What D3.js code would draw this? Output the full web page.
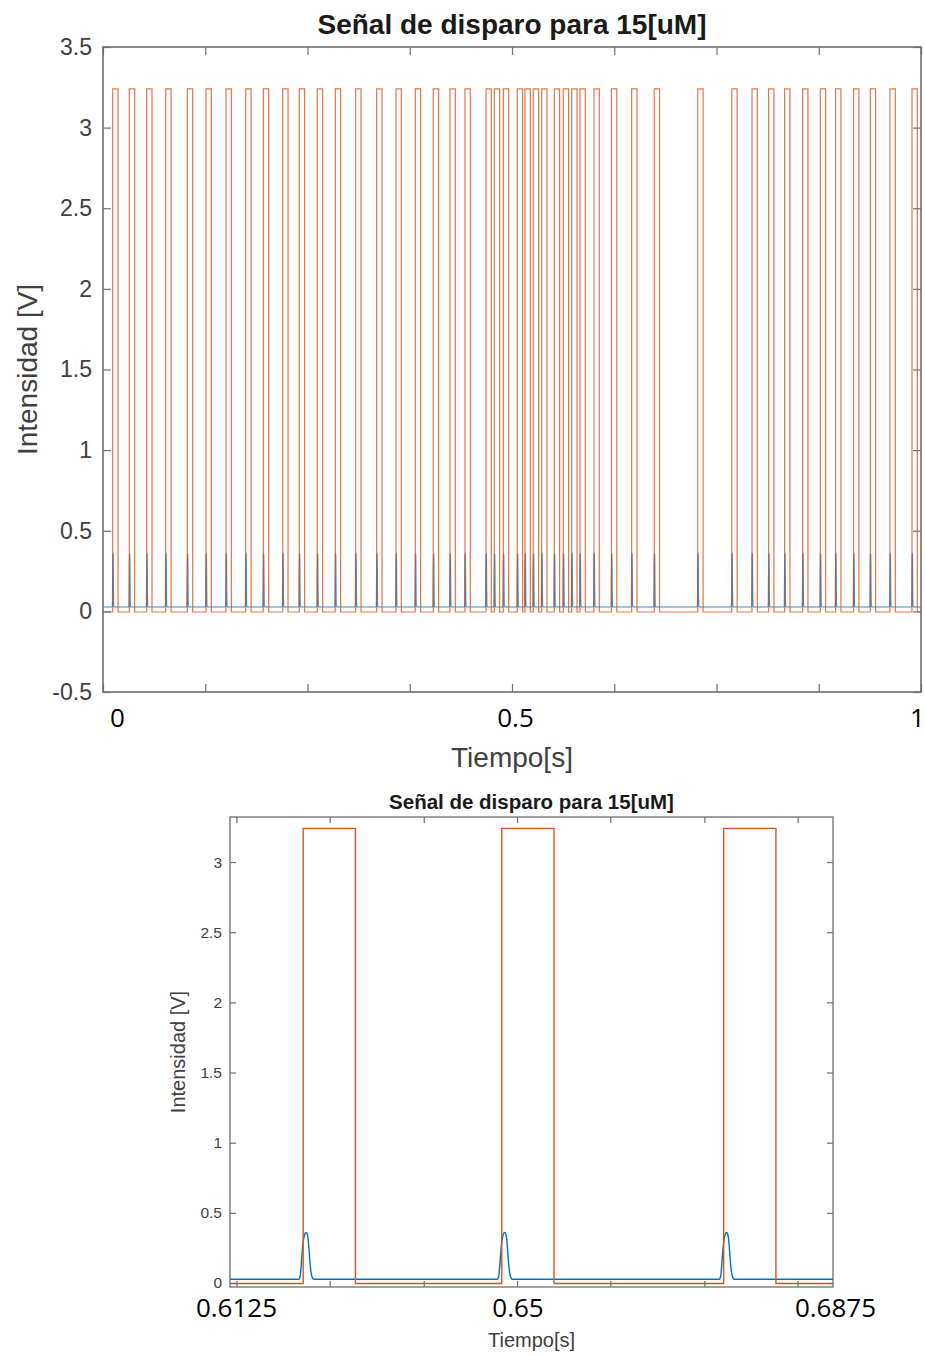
<!DOCTYPE html>
<html>
<head>
<meta charset="utf-8">
<script src="https://cdn.jsdelivr.net/npm/d3@7"></script>
<style>
  body { margin: 0; background: #fff; }
  svg { display: block; }
</style>
</head>
<body>
<svg id="fig" width="925" height="1356"></svg>
<script>
// ---- Data -------------------------------------------------------------
// Onset times (s) of each trigger pulse
const pulseOnsets = [
  0.0119, 0.0322, 0.0534, 0.0767, 0.1031, 0.1259, 0.1504, 0.1745, 0.1960, 0.2197,
  0.2400, 0.2620, 0.2840, 0.3089, 0.3346, 0.3582, 0.3818, 0.4038, 0.4242, 0.4425,
  0.4682, 0.4784, 0.4894, 0.5065, 0.5159, 0.5260, 0.5363, 0.5517, 0.5627, 0.5730,
  0.5831, 0.6002, 0.6216, 0.6463, 0.6739, 0.7271, 0.7687, 0.7934, 0.8137, 0.8333,
  0.8553, 0.8769, 0.8956, 0.9176, 0.9380, 0.9621, 0.9890
];
const pulseWidth = 0.0065;          // s
const triggerLow = -0.004;          // V
const triggerHigh = 3.24;           // V
const responseBase = 0.027;         // V

// Shape of the detector response around each onset (offset in s, value in V)
const bumpOffsets = [-0.00055, -0.00037, -0.00025, -0.00012, 0, 0.00012, 0.00025,
                     0.00037, 0.0005, 0.00062, 0.00075, 0.00087, 0.001, 0.00112, 0.00132];
const bumpValues  = [0.027, 0.05, 0.12, 0.22, 0.29, 0.33, 0.355,
                     0.36, 0.35, 0.31, 0.22, 0.13, 0.07, 0.04, 0.027];

const titleText = "Señal de disparo para 15[uM]";
const xLabelText = "Tiempo[s]";
const yLabelText = "Intensidad [V]";

// Overview panel ticks
const overviewXTicks = [0, 0.125, 0.25, 0.375, 0.5, 0.625, 0.75, 0.875, 1];
const overviewXLabels = [0, 0.5, 1];
const overviewYTicks = [-0.5, 0, 0.5, 1, 1.5, 2, 2.5, 3, 3.5];

// Zoomed panel ticks
const zoomXTicks = [0.6133, 0.6249, 0.6366, 0.6482, 0.6598, 0.6715, 0.6831];
const zoomXLabels = [0.6125, 0.65, 0.6875];
const zoomYTicks = [0, 0.5, 1, 1.5, 2, 2.5, 3];

// ---- Series built from the pulse list ---------------------------------
const triggerSeries = [{ t: 0, v: triggerLow }];
pulseOnsets.forEach(t0 => {
  triggerSeries.push({ t: t0, v: triggerLow }, { t: t0, v: triggerHigh },
                     { t: t0 + pulseWidth, v: triggerHigh }, { t: t0 + pulseWidth, v: triggerLow });
});
triggerSeries.push({ t: 1, v: triggerLow });

const responseSeries = [{ t: 0, v: responseBase }];
pulseOnsets.forEach(t0 => {
  bumpOffsets.forEach((dt, i) => responseSeries.push({ t: t0 + dt, v: bumpValues[i] }));
});
responseSeries.push({ t: 1, v: responseBase });

// ---- Drawing ----------------------------------------------------------
const svg = d3.select("#fig");
const COL_BLUE = "#0072BD", COL_ORANGE = "#D95319";
const AXIS_COL = "#6f6f6f", TEXT_COL = "#404040";
const HELV = "'Liberation Sans', Arial, sans-serif";
const OVERLAY_FONT = "'Open Sans', 'Noto Sans', sans-serif";

function panel(cfg, id) {
  const g = svg.append("g");
  const x = d3.scaleLinear().domain(cfg.xDomain).range([cfg.left, cfg.right]);
  const y = d3.scaleLinear().domain(cfg.yDomain).range([cfg.bottom, cfg.top]);

  g.append("clipPath").attr("id", id)
    .append("rect").attr("x", cfg.left).attr("y", cfg.top)
    .attr("width", cfg.right - cfg.left).attr("height", cfg.bottom - cfg.top);

  const plot = g.append("g").attr("clip-path", `url(#${id})`);
  plot.append("path").datum(responseSeries)
    .attr("d", d3.line().x(d => x(d.t)).y(d => y(d.v)).curve(d3.curveMonotoneX))
    .attr("fill", "none").attr("stroke", COL_BLUE)
    .attr("stroke-width", cfg.lw).attr("stroke-opacity", cfg.opacity);
  plot.append("path").datum(triggerSeries)
    .attr("d", d3.line().x(d => x(d.t)).y(d => y(d.v)))
    .attr("fill", "none").attr("stroke", COL_ORANGE)
    .attr("stroke-width", cfg.lw).attr("stroke-opacity", cfg.opacity);

  // inward ticks on all four sides
  const tick = (axis, tx, ty) => {
    const a = g.append("g").attr("transform", `translate(${tx},${ty})`).call(axis);
    a.select(".domain").remove();
    a.selectAll("line").attr("stroke", AXIS_COL).attr("stroke-width", 1.2);
    return a;
  };
  tick(d3.axisBottom(x).tickValues(cfg.xTicks).tickSize(-cfg.tickLen).tickFormat(""), 0, cfg.bottom);
  tick(d3.axisTop(x).tickValues(cfg.xTicks).tickSize(-cfg.tickLen).tickFormat(""), 0, cfg.top);
  tick(d3.axisRight(y).tickValues(cfg.yTicks).tickSize(-cfg.tickLen).tickFormat(""), cfg.right, 0);
  const yl = tick(d3.axisLeft(y).tickValues(cfg.yTicks).tickSizeInner(-cfg.tickLen).tickSizeOuter(0)
      .tickPadding(cfg.yPad).tickFormat(d => String(d)), cfg.left, 0);
  yl.selectAll("text").attr("fill", TEXT_COL).style("font-family", HELV)
    .style("font-size", cfg.tickFont + "px");

  // box
  g.append("rect").attr("x", cfg.left).attr("y", cfg.top)
    .attr("width", cfg.right - cfg.left).attr("height", cfg.bottom - cfg.top)
    .attr("fill", "none").attr("stroke", AXIS_COL).attr("stroke-width", cfg.boxW);

  // time labels under the axis
  const xl = g.append("g").attr("transform", `translate(0,${cfg.bottom})`)
    .call(d3.axisBottom(x).tickValues(cfg.xLabels).tickSize(0).tickPadding(0)
      .tickFormat(d => String(d)));
  xl.select(".domain").remove();
  xl.selectAll("text").attr("dy", null).attr("y", cfg.labelBase - cfg.bottom)
    .attr("dx", (d, i) => cfg.labelShift[i])
    .attr("fill", "#000").style("font-family", OVERLAY_FONT)
    .style("font-size", cfg.overlayFont + "px");

  // title and axis labels
  g.append("text").attr("x", (cfg.left + cfg.right) / 2).attr("y", cfg.titleY)
    .attr("text-anchor", "middle").attr("fill", "#1a1a1a")
    .style("font-family", HELV).style("font-weight", "bold")
    .style("font-size", cfg.titleFont + "px").text(titleText);
  g.append("text").attr("x", (cfg.left + cfg.right) / 2).attr("y", cfg.xLabelY)
    .attr("text-anchor", "middle").attr("fill", TEXT_COL)
    .style("font-family", HELV).style("font-size", cfg.labelFont + "px").text(xLabelText);
  g.append("text")
    .attr("transform", `translate(${cfg.yLabelX},${(cfg.top + cfg.bottom) / 2}) rotate(-90)`)
    .attr("text-anchor", "middle").attr("fill", TEXT_COL)
    .style("font-family", HELV).style("font-size", cfg.labelFont + "px").text(yLabelText);
}

panel({
  left: 103, right: 921, top: 47, bottom: 692,
  xDomain: [0, 1], yDomain: [-0.5, 3.5],
  xTicks: overviewXTicks, yTicks: overviewYTicks, xLabels: overviewXLabels,
  labelShift: [14, 3, -4],
  tickLen: 8, yPad: 11, tickFont: 23, titleFont: 28, titleY: 34,
  labelFont: 28, xLabelY: 767, yLabelX: 37, overlayFont: 26, labelBase: 727,
  lw: 1.2, opacity: 0.8, boxW: 1.6
}, "clip-overview");

panel({
  left: 230, right: 833, top: 817, bottom: 1287,
  xDomain: [0.6125, 0.6875], yDomain: [-0.0285, 3.321],
  xTicks: zoomXTicks, yTicks: zoomYTicks, xLabels: zoomXLabels,
  labelShift: [6, -14, 2],
  tickLen: 6, yPad: 8, tickFont: 15.5, titleFont: 20.5, titleY: 809,
  labelFont: 20, xLabelY: 1347, yLabelX: 185, overlayFont: 26, labelBase: 1317,
  lw: 1.4, opacity: 1, boxW: 1.3
}, "clip-zoom");
</script>
</body>
</html>
